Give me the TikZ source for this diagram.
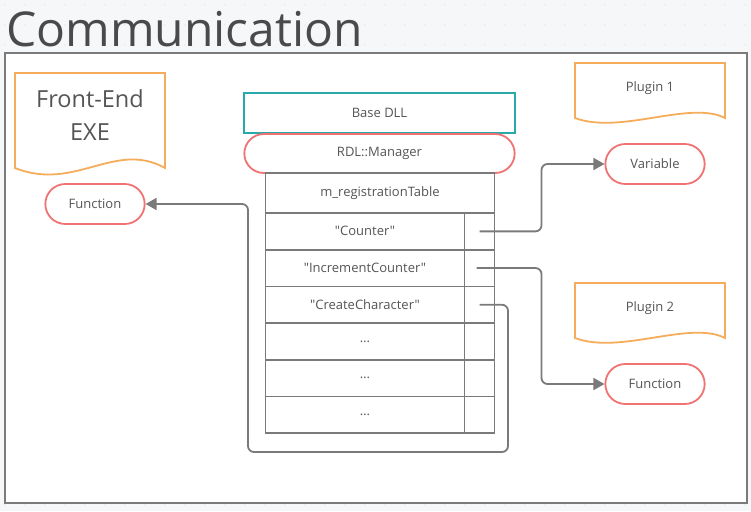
\documentclass[tikz,border=0pt]{standalone}
\usepackage{fontspec}
\setmainfont{Open Sans}[Ligatures=TeXOff]
\usetikzlibrary{arrows.meta,shapes.misc,calc}

\definecolor{bggray}{HTML}{F6F7F9}
\definecolor{dotgray}{HTML}{DADCE0}
\definecolor{framegray}{HTML}{7A7A7A}
\definecolor{txtgray}{HTML}{555555}
\definecolor{titlegray}{HTML}{4A4A4A}
\definecolor{pillred}{HTML}{F07272}
\definecolor{docorange}{HTML}{F5AD5B}
\definecolor{dllteal}{HTML}{2AA9A9}

\tikzset{
  pill/.style={rounded rectangle, draw=pillred, line width=1.8pt, fill=white,
    minimum width=106pt, minimum height=40pt, text=txtgray, font=\fontsize{13}{15}\selectfont},
  cell/.style={draw=framegray, line width=1.8pt, minimum height=36.7pt,
    inner sep=0pt, outer sep=0pt, text=txtgray, font=\fontsize{13}{15}\selectfont},
  conn/.style={draw=framegray, line width=1.8pt, rounded corners=6pt,
    -{Triangle[length=11pt,width=12pt]}},
  docshape/.style={draw=docorange, line width=1.8pt, fill=white}
}

\begin{document}
\begin{tikzpicture}[x=1pt, y=-1pt]
  \useasboundingbox (0,0) rectangle (751,511);
  \fill[bggray] (0,0) rectangle (751,511);
  % dot grid
  \foreach \i in {0,...,37}
    \foreach \j in {0,...,25}
      \fill[dotgray] (\i*20+5,\j*20+5) circle (0.7pt);

  % title and frame
  \node[anchor=base west, inner sep=0pt, text=titlegray,
        font=\fontsize{48}{50}\selectfont] (title) at (6,47) {Communication};
  \draw[framegray, line width=2pt, fill=white] (5,53) rectangle (747,503);

  % documents
  \draw[docshape] (15,168) -- (15,73) -- (165,73) -- (165,168)
    .. controls (115,140) and (75,192) .. cycle;
  \node[text=txtgray, align=center, font=\fontsize{23.5}{33}\selectfont] (exe) at (90,115) {Front-End\\EXE};

  \draw[docshape] (575,118) -- (575,63) -- (725,63) -- (725,118)
    .. controls (690,100) and (620,135) .. cycle;
  \node[text=txtgray, font=\fontsize{13}{15}\selectfont] (plug1) at (650,88) {Plugin 1};

  \draw[docshape] (575,338) -- (575,283) -- (725,283) -- (725,338)
    .. controls (690,320) and (620,355) .. cycle;
  \node[text=txtgray, font=\fontsize{13}{15}\selectfont] (plug2) at (650,308) {Plugin 2};

  % pills
  \node[pill] (fnexe) at (95,204) {Function};
  \node[pill] (var) at (655,164) {Variable};
  \node[pill] (fnplug) at (655,384) {Function};

  % base dll
  \node[draw=dllteal, line width=1.8pt, fill=white, minimum width=271pt, minimum height=40pt,
        text=txtgray, font=\fontsize{13}{15}\selectfont] (dll) at (379.5,113) {Base DLL};
  \node[pill, minimum width=277pt, minimum height=39pt] (mgr) at (379.5,153.5) {RDL::Manager};

  % registration table
  \node[cell, minimum width=229pt, minimum height=40pt, anchor=north west] (head) at (265.5,173) {m\_registrationTable};
  \foreach \lbl [count=\i] in {"Counter", "IncrementCounter", "CreateCharacter", \ldots, \ldots, \ldots} {
    \node[cell, minimum width=199pt, anchor=north west] (r\i) at (265.5,{213+(\i-1)*36.7}) {\lbl};
    \node[cell, minimum width=30pt, anchor=west] (c\i) at (r\i.east) {};
  }

  % connectors
  \coordinate (loopR) at (508,452);
  \coordinate (loopL) at (248,452);
  \draw[conn] (c1.center) -- ++(62,0) |- (var.west);
  \draw[conn] ([xshift=-3pt]c2.center) -- ++(65,0) |- (fnplug.west);
  \draw[conn] (c3.center) -| (loopR) -- (loopL) |- (fnexe.east);
\end{tikzpicture}
\end{document}
